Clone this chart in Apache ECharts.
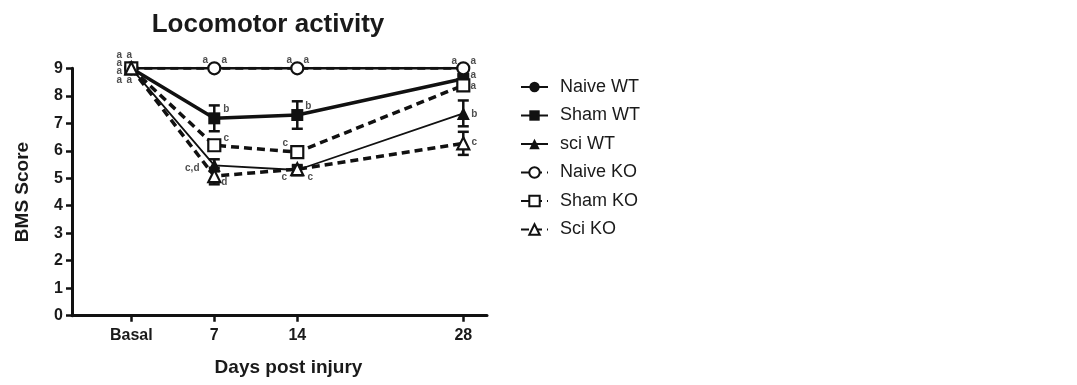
<!DOCTYPE html>
<html>
<head>
<meta charset="utf-8">
<script src="https://cdn.jsdelivr.net/npm/echarts@6/dist/echarts.min.js"></script>
<style>html,body{margin:0;padding:0;background:#fff;}#main{width:1077px;height:385px;}</style>
</head>
<body>
<div id="main"></div>
<script>
// ---- data ----
const days = [0, 7, 14, 28];
const xTickLabels = ['Basal', '7', '14', '28'];
const seriesNames = ['Naive WT', 'Sham WT', 'sci WT', 'Naive KO', 'Sham KO', 'Sci KO'];
const naiveWT = [9, 9, 9, 9];
const shamWT = [9, 7.18, 7.3, 8.62];
const sciWT = [9, 5.47, 5.3, 7.36];
const naiveKO = [9, 9, 9, 9];
const shamKO = [9, 6.2, 5.95, 8.38];
const sciKO = [9, 5.08, 5.33, 6.27];
const naiveWTErr = [0, 0, 0, 0];
const shamWTErr = [0, 0.47, 0.5, 0.12];
const sciWTErr = [0, 0.22, 0.12, 0.47];
const naiveKOErr = [0, 0, 0, 0];
const shamKOErr = [0, 0.15, 0.18, 0.12];
const sciKOErr = [0, 0.3, 0.15, 0.42];
const naiveWTLetters = ['a', 'a', 'a', 'a'];
const shamWTLetters = ['a', 'b', 'b', 'a'];
const sciWTLetters = ['a', 'c,d', 'c', 'b'];
const naiveKOLetters = ['a', 'a', 'a', 'a'];
const shamKOLetters = ['a', 'c', 'c', 'a'];
const sciKOLetters = ['a', 'd', 'c', 'c'];

// ---- styling ----
const values = [naiveWT, shamWT, sciWT, naiveKO, shamKO, sciKO];
const errs = [naiveWTErr, shamWTErr, sciWTErr, naiveKOErr, shamKOErr, sciKOErr];
const letters = [naiveWTLetters, shamWTLetters, sciWTLetters, naiveKOLetters, shamKOLetters, sciKOLetters];
const INK = '#111';
const FONT = 'Liberation Sans, Arial, sans-serif';
const styles = [
  {symbol: 'circle', size: 12, fill: INK, width: 2.5, type: 'solid'},
  {symbol: 'rect', size: 12, fill: INK, width: 3.5, type: 'solid'},
  {symbol: 'triangle', size: 13, fill: INK, width: 1.8, type: 'solid'},
  {symbol: 'circle', size: 12, fill: '#fff', width: 3, type: [8, 5]},
  {symbol: 'rect', size: 12, fill: '#fff', width: 3.5, type: [8, 5]},
  {symbol: 'triangle', size: 12, fill: '#fff', width: 3.5, type: [8, 5]}
];
// label offsets (px) per series per time point
const labelOffsets = [
  [[-12, -13], [-9, -8], [-8, -8], [-9, -7]],
  [[-2, -13], [12, -9], [11, -9], [10, -3]],
  [[-12, -5], [-22, 3], [13, 7], [11, 1]],
  [[-12, 3], [10, -8], [9, -8], [10, -7]],
  [[-12, 12], [12, -7], [-12, -9], [10, 1]],
  [[-2, 12], [10, 6], [-13, 8], [11, -1]]
];

const series = [];
// error bars
values.forEach((v, si) => {
  series.push({
    type: 'custom',
    z: 1,
    silent: true,
    renderItem: function (params, api) {
      const x = api.value(0), y = api.value(1), e = api.value(2);
      if (!e) return null;
      const top = api.coord([x, y + e]);
      const bot = api.coord([x, y - e]);
      const hw = 5.5;
      const st = {stroke: INK, lineWidth: 2.5};
      return {
        type: 'group',
        children: [
          {type: 'line', shape: {x1: top[0], y1: top[1], x2: bot[0], y2: bot[1]}, style: st},
          {type: 'line', shape: {x1: top[0] - hw, y1: top[1], x2: top[0] + hw, y2: top[1]}, style: st},
          {type: 'line', shape: {x1: bot[0] - hw, y1: bot[1], x2: bot[0] + hw, y2: bot[1]}, style: st}
        ]
      };
    },
    data: days.map((d, i) => [d, v[i], errs[si][i]])
  });
});
// lines
values.forEach((v, si) => {
  const s = styles[si];
  series.push({
    name: seriesNames[si],
    type: 'line',
    z: 3 + si,
    symbol: s.symbol,
    symbolSize: s.size,
    showAllSymbol: true,
    lineStyle: {color: INK, width: s.width, type: s.type},
    itemStyle: {color: s.fill, borderColor: INK, borderWidth: s.fill === '#fff' ? 2.2 : 0},
    emphasis: {disabled: true},
    data: days.map((d, i) => [d, v[i]])
  });
});
// annotation letters
values.forEach((v, si) => {
  series.push({
    type: 'scatter',
    z: 20,
    silent: true,
    symbolSize: 0,
    data: days.map((d, i) => ({
      value: [d, v[i]],
      label: {
        show: !!letters[si][i],
        formatter: letters[si][i],
        position: 'inside',
        offset: labelOffsets[si][i],
        fontFamily: FONT,
        fontWeight: 'bold',
        fontSize: 10,
        color: '#222'
      }
    }))
  });
});

const chart = echarts.init(document.getElementById('main'), null, {renderer: 'canvas'});
chart.setOption({
  animation: false,
  backgroundColor: '#fff',
  textStyle: {fontFamily: FONT},
  title: {
    text: 'Locomotor activity',
    left: 263,
    textAlign: 'center',
    top: 7,
    textStyle: {fontSize: 26, fontWeight: 'bold', color: '#1a1a1a', fontFamily: FONT}
  },
  legend: {
    data: seriesNames,
    orient: 'vertical',
    left: 515,
    top: 73,
    itemWidth: 27,
    itemHeight: 13,
    itemGap: 10.5,
    selectedMode: false,
    textStyle: {fontSize: 18, color: '#1a1a1a', fontFamily: FONT, padding: [0, 0, 0, 7]}
  },
  grid: {left: 72, right: 590, top: 68.3, bottom: 69.3, containLabel: false},
  xAxis: {
    type: 'value',
    min: -5,
    max: 30,
    name: 'Days post injury',
    nameLocation: 'middle',
    nameGap: 43,
    nameTextStyle: {fontSize: 19, fontWeight: 'bold', color: '#1a1a1a', padding: [0, 0, 0, 18]},
    splitLine: {show: false},
    axisLine: {onZero: false, lineStyle: {color: INK, width: 3}},
    axisTick: {show: true, inside: false, customValues: days, length: 6, lineStyle: {color: INK, width: 2.5}},
    axisLabel: {
      customValues: days,
      margin: 12,
      fontSize: 16,
      fontWeight: 'bold',
      color: '#1a1a1a',
      formatter: function (val) { const i = days.indexOf(val); return i >= 0 ? xTickLabels[i] : ''; }
    }
  },
  yAxis: {
    type: 'value',
    min: 0,
    max: 9,
    interval: 1,
    name: 'BMS Score',
    nameLocation: 'middle',
    nameGap: 40,
    nameTextStyle: {fontSize: 19, fontWeight: 'bold', color: '#1a1a1a'},
    splitLine: {show: false},
    axisLine: {show: true, onZero: false, lineStyle: {color: INK, width: 3}},
    axisTick: {show: true, inside: false, length: 6, lineStyle: {color: INK, width: 2.5}},
    axisLabel: {margin: 9, fontSize: 16, fontWeight: 'bold', color: '#1a1a1a'}
  },
  series: series
});
</script>
</body>
</html>
